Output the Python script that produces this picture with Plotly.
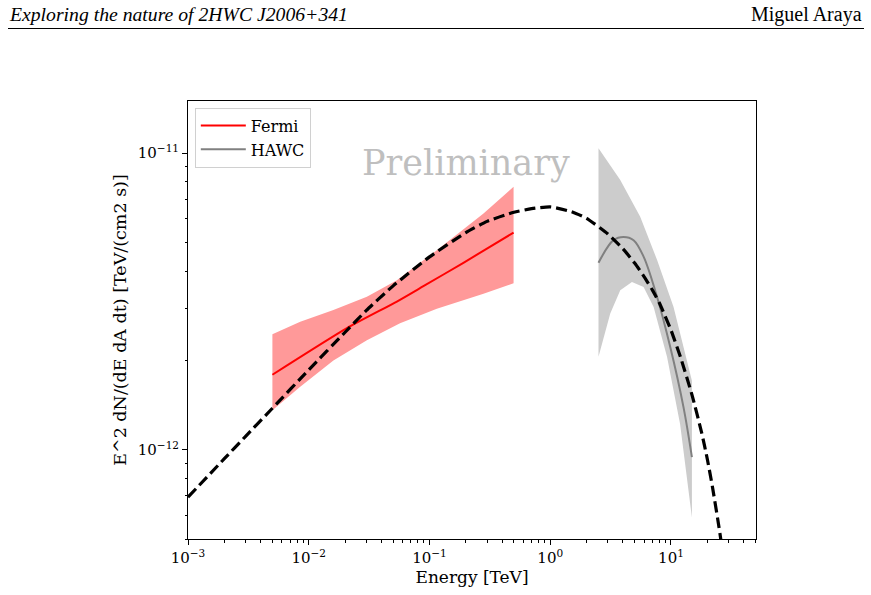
import plotly.graph_objects as go

# ---------------- data ----------------
model_E = [1e-3, 2e-3, 3e-3, 5e-3, 1e-2, 2e-2, 3e-2, 5e-2, 0.1, 0.2, 0.3, 0.5, 0.7,
           1.0, 1.5, 2.0, 3.0, 4.0, 5.0, 6.0, 7.0, 8.0, 10.0, 12.0, 15.0, 18.0,
           20.0, 22.0, 25.0, 28.0]
model_F = [6.92e-13, 9.33e-13, 1.11e-12, 1.38e-12, 1.86e-12, 2.49e-12, 2.95e-12,
           3.57e-12, 4.47e-12, 5.40e-12, 5.89e-12, 6.32e-12, 6.50e-12, 6.59e-12,
           6.35e-12, 6.03e-12, 5.34e-12, 4.76e-12, 4.26e-12, 3.83e-12, 3.46e-12,
           3.13e-12, 2.53e-12, 2.05e-12, 1.52e-12, 1.135e-12, 9.29e-13, 7.53e-13,
           5.47e-13, 3.98e-13]

fermi_E = [5.0e-3, 2.07e-2, 5.37e-2, 8.9e-2, 0.191, 0.497]
fermi_F = [1.79e-12, 2.57e-12, 3.16e-12, 3.56e-12, 4.27e-12, 5.40e-12]
fermi_up_E = [5.0e-3, 8.5e-3, 1.6e-2, 3.03e-2, 5.37e-2, 0.115, 0.28, 0.497]
fermi_up_F = [2.45e-12, 2.70e-12, 2.96e-12, 3.28e-12, 3.73e-12, 4.71e-12, 6.26e-12, 7.71e-12]
fermi_lo_E = [5.0e-3, 8.5e-3, 1.6e-2, 3.03e-2, 5.7e-2, 0.115, 0.28, 0.497]
fermi_lo_F = [1.36e-12, 1.63e-12, 2.00e-12, 2.34e-12, 2.67e-12, 2.99e-12, 3.36e-12, 3.64e-12]

hawc_E = [2.51, 3.34, 4.05, 4.90, 5.93, 7.66, 9.86, 12.7, 14.9]
hawc_F = [4.27e-12, 5.09e-12, 5.22e-12, 5.09e-12, 4.48e-12, 3.28e-12, 2.22e-12, 1.39e-12, 9.44e-13]
hawc_up_E = [2.51, 3.80, 5.56, 7.66, 10.5, 14.9]
hawc_up_F = [1.04e-11, 8.12e-12, 6.11e-12, 4.37e-12, 3.03e-12, 1.71e-12]
hawc_lo_E = [2.51, 3.14, 3.80, 4.75, 5.93, 7.18, 9.27, 11.9, 14.9]
hawc_lo_F = [2.06e-12, 2.88e-12, 3.45e-12, 3.68e-12, 3.54e-12, 3.03e-12, 2.06e-12, 1.22e-12, 5.91e-13]

x_major = [1e-3, 1e-2, 1e-1, 1, 10]
x_major_text = ["10<sup>−3</sup>", "10<sup>−2</sup>", "10<sup>−1</sup>", "10<sup>0</sup>", "10<sup>1</sup>"]
y_major = [1e-12, 1e-11]
y_major_text = ["10<sup>−12</sup>", "10<sup>−11</sup>"]

# minor tick positions (2..9 times each decade)
x_minor = [m * 10.0 ** d for d in range(-3, 2) for m in range(2, 10)]
y_minor = [m * 10.0 ** d for d in (-13, -12, -11) for m in range(2, 10)]

FONT = "DejaVu Serif"

fig = go.Figure()

# Fermi band
fig.add_trace(go.Scatter(
    x=fermi_up_E + fermi_lo_E[::-1], y=fermi_up_F + fermi_lo_F[::-1],
    fill="toself", fillcolor="rgb(255,153,153)", line=dict(width=0),
    mode="lines", showlegend=False, hoverinfo="skip"))
# HAWC band
fig.add_trace(go.Scatter(
    x=hawc_up_E + hawc_lo_E[::-1], y=hawc_up_F + hawc_lo_F[::-1],
    fill="toself", fillcolor="rgb(204,204,204)", line=dict(width=0),
    mode="lines", showlegend=False, hoverinfo="skip"))
# Fermi line
fig.add_trace(go.Scatter(x=fermi_E, y=fermi_F, mode="lines", name="Fermi",
                         line=dict(color="red", width=2, shape="spline", smoothing=0.6)))
# HAWC line
fig.add_trace(go.Scatter(x=hawc_E, y=hawc_F, mode="lines", name="HAWC",
                         line=dict(color="gray", width=2, shape="spline")))
# model curve
fig.add_trace(go.Scatter(x=model_E, y=model_F, mode="lines", showlegend=False,
                         line=dict(color="black", width=3.2, dash="11px,5px",
                                   shape="spline", smoothing=0.5)))

L, R, T, B = 188, 115, 101, 56
W, H = 871, 595
pw, ph = W - L - R, H - T - B


def px(xp):
    return (xp - L) / pw


def py(yp):
    return (H - B - yp) / ph


fig.update_xaxes(
    type="log", range=[-3, 1.704], showline=True, linecolor="black", linewidth=1,
    mirror=True, ticks="outside", ticklen=5, tickcolor="black",
    tickvals=x_major, ticktext=x_major_text, showgrid=False, zeroline=False,
    tickfont=dict(family=FONT, size=15, color="black"),
    minor=dict(ticks="outside", ticklen=2.5, tickcolor="black", tickvals=x_minor,
               showgrid=False),
    title=dict(text="Energy [TeV]", font=dict(family=FONT, size=17, color="black"),
               standoff=5))
fig.update_yaxes(
    type="log", range=[-12.301, -10.824], showline=True, linecolor="black", linewidth=1,
    mirror=True, ticks="outside", ticklen=5, tickcolor="black",
    tickvals=y_major, ticktext=y_major_text, showgrid=False, zeroline=False,
    tickfont=dict(family=FONT, size=15, color="black"),
    minor=dict(ticks="outside", ticklen=2.5, tickcolor="black", tickvals=y_minor,
               showgrid=False),
    title=dict(text="E^2 dN/(dE dA dt) [TeV/(cm2 s)]",
               font=dict(family=FONT, size=17.5, color="black"), standoff=6))

fig.update_layout(
    width=W, height=H, margin=dict(l=L, r=R, t=T, b=B, autoexpand=False),
    paper_bgcolor="white", plot_bgcolor="white",
    legend=dict(x=0.012, y=0.985, xanchor="left", yanchor="top",
                bgcolor="white", bordercolor="#d0d0d0", borderwidth=1,
                font=dict(family=FONT, size=16, color="black"),
                itemwidth=45, tracegroupgap=2),
    annotations=[
        dict(text="Preliminary", x=px(466), y=py(163), xref="paper", yref="paper",
             showarrow=False, font=dict(family=FONT, size=35, color="#bfbfbf"),
             xanchor="center", yanchor="middle"),
        dict(text="<i>Exploring the nature of 2HWC J2006+341</i>", x=px(7), y=py(14),
             xref="paper", yref="paper", showarrow=False, xanchor="left",
             yanchor="middle", font=dict(family="Liberation Serif", size=19.7, color="black")),
        dict(text="Miguel Araya", x=px(864), y=py(14), xref="paper", yref="paper",
             showarrow=False, xanchor="right", yanchor="middle",
             font=dict(family="Liberation Serif", size=20, color="black")),
    ],
    shapes=[dict(type="line", xref="paper", yref="paper", x0=px(8), x1=px(864),
                 y0=py(28.5), y1=py(28.5), line=dict(color="black", width=1))],
)

fig.write_html("out.html")
